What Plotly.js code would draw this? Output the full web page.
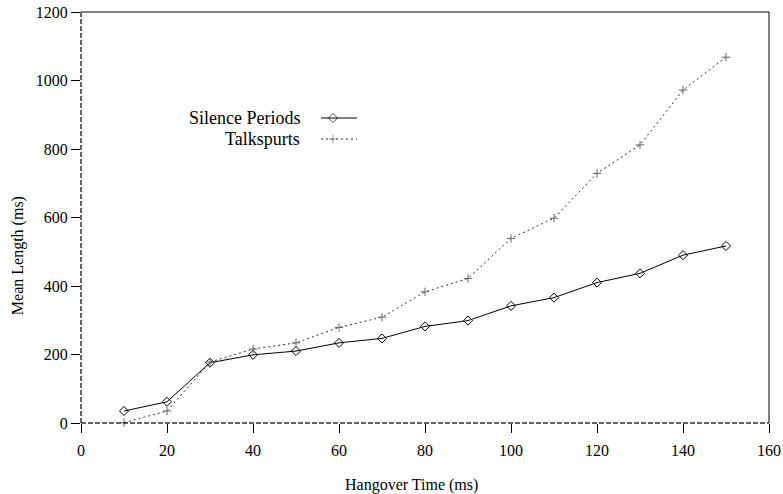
<!DOCTYPE html>
<html>
<head>
<meta charset="utf-8">
<script src="https://cdn.plot.ly/plotly-3.0.1.min.js"></script>
<style>
  html, body { margin: 0; padding: 0; background: #fff; }
  #chart { width: 783px; height: 494px; }
</style>
</head>
<body>
<div id="chart"></div>
<script>
// Hangover time (ms) and resulting mean lengths (ms)
const hangover = [10, 20, 30, 40, 50, 60, 70, 80, 90, 100, 110, 120, 130, 140, 150];
const silencePeriods = [35, 62, 176, 199, 210, 234, 247, 282, 299, 342, 366, 410, 437, 490, 517];
const talkspurts = [1, 35, 178, 216, 234, 279, 309, 383, 422, 539, 598, 729, 812, 972, 1068];

const seriesNames = ['Silence Periods', 'Talkspurts'];
const xTicks = [0, 20, 40, 60, 80, 100, 120, 140, 160];
const yTicks = [0, 200, 400, 600, 800, 1000, 1200];

const serif = 'Liberation Serif, Times New Roman, serif';

const silenceStyle = {
  line: { color: '#000', width: 1 },
  marker: { symbol: 'diamond-open', size: 7, color: '#000', line: { width: 1, color: '#000' } }
};
const talkStyle = {
  line: { color: '#333', width: 1, dash: '2px,3px' },
  marker: { symbol: 'cross-thin-open', size: 6, color: '#666', line: { width: 1, color: '#666' } }
};

const traces = [
  Object.assign({ x: hangover, y: silencePeriods, name: seriesNames[0], mode: 'lines+markers',
    type: 'scatter', showlegend: false, cliponaxis: false }, silenceStyle),
  Object.assign({ x: hangover, y: talkspurts, name: seriesNames[1], mode: 'lines+markers',
    type: 'scatter', showlegend: false, cliponaxis: false }, talkStyle)
];

// Legend key samples, drawn on an overlay axis measured in page pixels
const keyLine = [321, 333, 357];
const keyRows = [118, 139];
const keyMarkerOn = [0, 1, 0];
[silenceStyle, talkStyle].forEach((st, i) => {
  traces.push({
    x: keyLine, y: keyLine.map(() => keyRows[i]),
    xaxis: 'x2', yaxis: 'y2', mode: 'lines+markers', type: 'scatter', showlegend: false,
    hoverinfo: 'skip', cliponaxis: false,
    line: st.line,
    marker: Object.assign({}, st.marker, { size: keyMarkerOn.map(s => s * st.marker.size) })
  });
});

const axisFont = { family: serif, size: 16, color: '#000' };
const keyFont = { family: serif, size: 18, color: '#000' };

const layout = {
  width: 783, height: 494,
  margin: { l: 81, r: 14, t: 12, b: 71, pad: 0 },
  paper_bgcolor: '#fff', plot_bgcolor: '#fff',
  font: { family: serif, size: 16, color: '#000' },
  showlegend: false,
  xaxis: {
    range: [0, 160], tickvals: xTicks, ticktext: xTicks.map(String),
    showgrid: false, zeroline: false, showline: false,
    ticks: 'outside', ticklen: 9, tickwidth: 1, tickcolor: '#000',
    ticklabelstandoff: 4, tickfont: axisFont
  },
  yaxis: {
    range: [0, 1200], tickvals: yTicks, ticktext: yTicks.map(String),
    showgrid: false, zeroline: false, showline: false,
    ticks: 'outside', ticklen: 9, tickwidth: 1, tickcolor: '#000',
    tickfont: axisFont
  },
  xaxis2: { overlaying: 'x', range: [81, 769], visible: false, fixedrange: true },
  yaxis2: { overlaying: 'y', range: [423, 12], visible: false, fixedrange: true },
  shapes: [
    // frame: solid top and right, dashed left and bottom
    { type: 'line', xref: 'paper', yref: 'paper', x0: 0, x1: 1, y0: 1, y1: 1,
      line: { color: '#000', width: 1 } },
    { type: 'line', xref: 'paper', yref: 'paper', x0: 1, x1: 1, y0: 0, y1: 1,
      line: { color: '#000', width: 1 } },
    { type: 'line', xref: 'paper', yref: 'paper', x0: 0, x1: 0, y0: 0, y1: 1,
      line: { color: '#333', width: 1.5, dash: '5px,2px' } },
    { type: 'line', xref: 'paper', yref: 'paper', x0: 0, x1: 1, y0: 0, y1: 0,
      line: { color: '#333', width: 1.5, dash: '5px,2px' } }
  ],
  annotations: [
    { text: 'Hangover Time (ms)', xref: 'paper', yref: 'paper', x: 0.48, y: 0,
      yshift: -62, showarrow: false, font: axisFont, xanchor: 'center', yanchor: 'middle' },
    { text: 'Mean Length (ms)', xref: 'paper', yref: 'paper', x: 0, y: 0.406,
      xshift: -63, showarrow: false, font: axisFont, textangle: -90,
      xanchor: 'center', yanchor: 'middle' },
    { text: seriesNames[0], xref: 'x2', yref: 'y2', x: 302, y: keyRows[0], showarrow: false,
      font: keyFont, xanchor: 'right', yanchor: 'middle' },
    { text: seriesNames[1], xref: 'x2', yref: 'y2', x: 302, y: keyRows[1], showarrow: false,
      font: keyFont, xanchor: 'right', yanchor: 'middle' }
  ]
};

Plotly.newPlot('chart', traces, layout, { displayModeBar: false, staticPlot: true });
</script>
</body>
</html>
